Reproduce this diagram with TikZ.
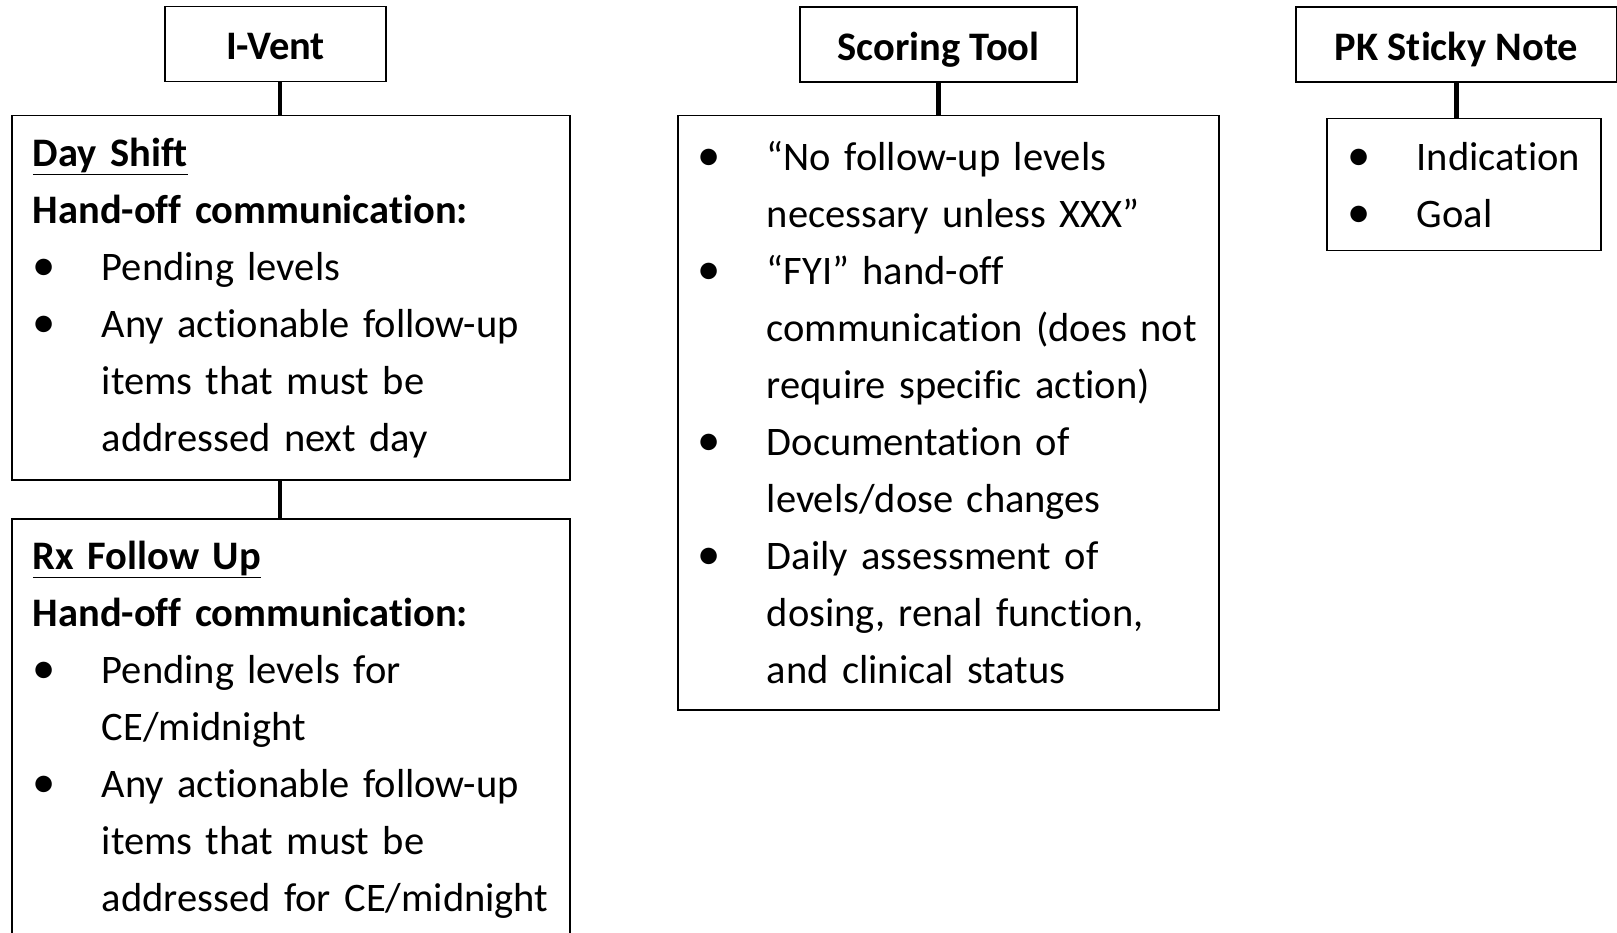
\documentclass[tikz,border=0pt]{standalone}
\usepackage{fontspec}
\setmainfont{Carlito}[Ligatures={TeX,NoCommon}]
\usetikzlibrary{positioning}
\newcommand{\bodyfont}{\fontsize{40.5}{57}\selectfont}
\newcommand{\bul}{\makebox[69pt][l]{\scalebox{1.15}{\textbullet}}}
\newcommand{\ind}{\hspace*{69pt}}
\tikzstyle{head}=[draw, line width=1.5pt, font=\bodyfont\bfseries, inner sep=0pt, text height=34pt, text depth=2pt, minimum height=75pt]
\tikzstyle{panel}=[draw, line width=1.5pt, font=\bodyfont, anchor=north west, inner xsep=21pt, inner ysep=0pt, align=left]
\tikzstyle{link}=[line width=4.5pt]

\begin{document}
\begin{tikzpicture}[x=1pt, y=-1pt]
    \useasboundingbox (0,0) rectangle (1617,933);
    \clip (0,0) rectangle (1617,933);
    % column headings
    \node[head, minimum width=221pt] (ivent) at (275.5,44) {I-Vent};
    \node[head, minimum width=277pt] (scoring) at (938.5,44.5) {Scoring Tool};
    \node[head, minimum width=321pt] (sticky) at (1456.5,44.5) {PK Sticky Note};
    % panels below the headings
    \node[panel, text width=516pt, minimum height=364pt] (dayshift) at (11,115) {%
        \underline{\textbf{Day Shift}}\\
        \textbf{Hand-off communication:}\\
        \bul Pending levels\\
        \bul Any actionable follow-up\\
        \ind items that must be\\
        \ind addressed next day};
    \node[panel, text width=516pt, minimum height=422pt] (rxfollow) at (11,518) {%
        \underline{\textbf{Rx Follow Up}}\\
        \textbf{Hand-off communication:}\\
        \bul Pending levels for\\
        \ind CE/midnight\\
        \bul Any actionable follow-up\\
        \ind items that must be\\
        \ind addressed for CE/midnight};
    \node[panel, text width=501pt, minimum height=594pt, inner xsep=20pt] (scorelist) at (677,115) {%
        \bul “No follow-up levels\\
        \ind necessary unless XXX”\\
        \bul “FYI” hand-off\\
        \ind communication (does not\\
        \ind require specific action)\\
        \bul Documentation of\\
        \ind levels/dose changes\\
        \bul Daily assessment of\\
        \ind dosing, renal function,\\
        \ind and clinical status};
    \node[panel, text width=232pt, minimum height=132pt] (stickylist) at (1326,118) {%
        \bul Indication\\
        \bul Goal};
    % connectors
    \coordinate (spine) at ([xshift=4.5pt]ivent.south);
    \draw[link] (spine) -- (spine |- dayshift.north);
    \draw[link] (spine |- dayshift.south) -- (spine |- rxfollow.north);
    \draw[link] (scoring.south) -- (scoring.south |- scorelist.north);
    \draw[link] (sticky.south) -- (sticky.south |- stickylist.north);
\end{tikzpicture}
\end{document}
